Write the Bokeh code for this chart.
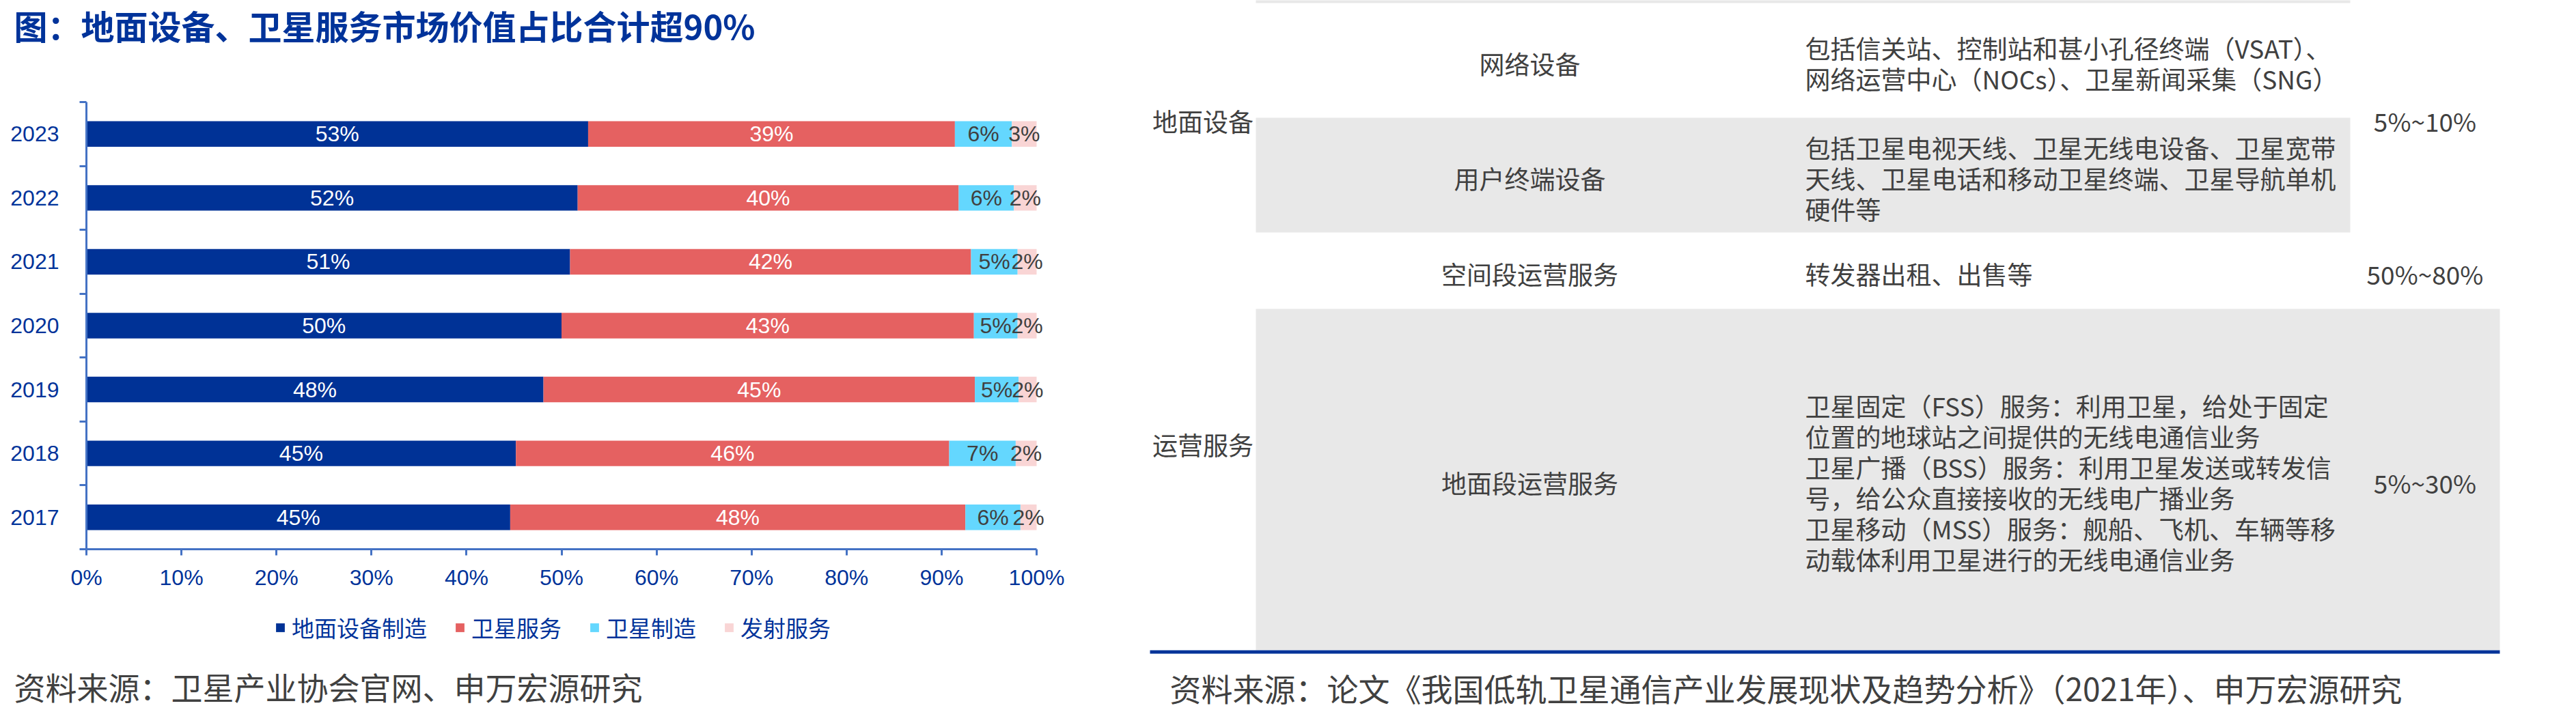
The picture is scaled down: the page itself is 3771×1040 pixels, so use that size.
from bokeh.plotting import figure
from bokeh.layouts import row
from bokeh.models import (Range1d, FixedTicker, CustomJSTickFormatter, PrintfTickFormatter,
                          Legend, LegendItem, Label, ColumnDataSource, LinearAxis)
from bokeh.core.properties import value
from bokeh.embed import file_html
from bokeh.resources import INLINE

# ---------------- data ----------------
years = ["2017", "2018", "2019", "2020", "2021", "2022", "2023"]
series_names = ["地面设备制造", "卫星服务", "卫星制造", "发射服务"]
ground_equipment = [44.6, 45.2, 48.1, 50.0, 50.9, 51.7, 52.8]
satellite_service = [47.9, 45.6, 45.4, 43.4, 42.2, 40.1, 38.6]
satellite_manufacture = [5.8, 7.0, 4.6, 4.6, 4.9, 5.8, 6.0]
launch_service = [1.7, 2.2, 1.9, 2.0, 2.0, 2.4, 2.6]
x_ticks = [0, 10, 20, 30, 40, 50, 60, 70, 80, 90, 100]

title_text = "图：地面设备、卫星服务市场价值占比合计超90%"
source_left = "资料来源：卫星产业协会官网、申万宏源研究"
source_right = "资料来源：论文《我国低轨卫星通信产业发展现状及趋势分析》（2021年）、申万宏源研究"

tbl_groups = ["地面设备", "运营服务"]
tbl_items = ["网络设备", "用户终端设备", "空间段运营服务", "地面段运营服务"]
tbl_desc = [
    ["包括信关站、控制站和甚小孔径终端（VSAT）、", "网络运营中心（NOCs）、卫星新闻采集（SNG）"],
    ["包括卫星电视天线、卫星无线电设备、卫星宽带", "天线、卫星电话和移动卫星终端、卫星导航单机", "硬件等"],
    ["转发器出租、出售等"],
    ["卫星固定（FSS）服务：利用卫星，给处于固定", "位置的地球站之间提供的无线电通信业务",
     "卫星广播（BSS）服务：利用卫星发送或转发信", "号，给公众直接接收的无线电广播业务",
     "卫星移动（MSS）服务：舰船、飞机、车辆等移", "动载体利用卫星进行的无线电通信业务"],
]
tbl_shares = ["5%~10%", "50%~80%", "5%~30%"]

# ---------------- style / layout ----------------
W, H = 3771, 1040
LW = 1660
FX0, FX1, FY0, FY1 = 126, 1517, 149, 804      # pixel box of the bar area
DARK_BLUE = "#00339A"
AXIS_BLUE = "#4472C4"
TXT = "#404040"
colors = ["#003296", "#E56161", "#64D7FE", "#F9D5D5"]
label_colors = ["white", "white", TXT, TXT]
CJK = "Noto Sans CJK SC"
LAT = "Liberation Sans"
NCAT = len(years)

def px_x(px):
    return (px - FX0) / (FX1 - FX0) * 100.0

def px_y(py):
    return (FY1 - py) / (FY1 - FY0) * NCAT

p = figure(width=LW, height=H, output_backend="svg", toolbar_location=None, title=None,
           x_range=Range1d(px_x(0), px_x(LW)), y_range=Range1d(px_y(H), px_y(0)),
           x_axis_location=None, y_axis_location=None, min_border=0)
p.outline_line_color = None
p.grid.visible = False
p.background_fill_color = "white"

vals = [ground_equipment, satellite_service, satellite_manufacture, launch_service]
ys = [i + 0.5 for i in range(NCAT)]
cum = [0.0] * NCAT
items = []
for k, v in enumerate(vals):
    left = cum[:]
    right = [a + b for a, b in zip(cum, v)]
    src = ColumnDataSource(dict(y=ys, left=left, right=right,
                                mid=[(a + b) / 2 for a, b in zip(left, right)],
                                lab=[f"{x:.0f}%" for x in v]))
    r = p.hbar(y="y", left="left", right="right", height=0.4, fill_color=colors[k],
               line_color=None, source=src)
    p.text(x="mid", y="y", text="lab", source=src, text_align="center", text_baseline="middle",
           text_font=value(LAT), text_font_size="32px", text_color=label_colors[k])
    items.append(LegendItem(label=series_names[k], renderers=[r]))
    cum = right

# axes (fixed inside the full-canvas frame)
xa = LinearAxis(fixed_location=0, bounds=(0, 100))
xa.ticker = FixedTicker(ticks=x_ticks)
xa.formatter = PrintfTickFormatter(format="%d%%")
xa.axis_line_color = AXIS_BLUE
xa.axis_line_width = 3
xa.major_tick_line_color = AXIS_BLUE
xa.major_tick_line_width = 3
xa.major_tick_out = 9
xa.major_tick_in = 0
xa.minor_tick_line_color = None
xa.major_label_text_font = LAT
xa.major_label_text_font_size = "32px"
xa.major_label_text_color = DARK_BLUE
xa.major_label_standoff = 14
p.add_layout(xa, "below")

ya = LinearAxis(fixed_location=0, bounds=(0, NCAT))
ya.ticker = FixedTicker(ticks=ys, minor_ticks=list(range(NCAT + 1)))
ya.formatter = CustomJSTickFormatter(args=dict(labels=years), code="return labels[Math.floor(tick)]")
ya.axis_line_color = AXIS_BLUE
ya.axis_line_width = 3
ya.major_tick_line_color = None
ya.major_tick_out = 0
ya.major_tick_in = 0
ya.minor_tick_line_color = AXIS_BLUE
ya.minor_tick_line_width = 3
ya.minor_tick_out = 10
ya.minor_tick_in = 0
ya.major_label_text_font = LAT
ya.major_label_text_font_size = "32px"
ya.major_label_text_color = DARK_BLUE
ya.major_label_standoff = 30
p.add_layout(ya, "left")

legend = Legend(items=items, orientation="horizontal", location=(402, 97),
                glyph_width=16, glyph_height=16, label_standoff=9, spacing=40,
                padding=0, margin=0, border_line_color=None, background_fill_alpha=0,
                label_text_font=CJK, label_text_font_size="33px", label_text_color=DARK_BLUE)
p.add_layout(legend, "center")

p.add_layout(Label(x=px_x(20), y=px_y(36), text=title_text, text_font=CJK, text_font_size="49px",
                   text_font_style="bold", text_color=DARK_BLUE, text_baseline="middle", text_align="left"))
p.add_layout(Label(x=px_x(20), y=px_y(1004), text=source_left, text_font=CJK, text_font_size="46px",
                   text_color=TXT, text_baseline="middle", text_align="left"))

# ---------------- right panel: table ----------------
q = figure(width=W - LW, height=H, output_backend="svg", toolbar_location=None, title=None,
           x_range=Range1d(LW, W), y_range=Range1d(H, 0),
           x_axis_location=None, y_axis_location=None, min_border=0)
q.outline_line_color = None
q.grid.visible = False

row_edges = [4, 172, 340, 452, 952]
col_edges = [1683, 1838, 2640, 3440, 3659]
GRAY = "#E8E8E8"
q.quad(left=[col_edges[1], col_edges[1], col_edges[1]],
       right=[col_edges[3], col_edges[3], col_edges[4]],
       top=[-20, row_edges[1], row_edges[3]],
       bottom=[row_edges[0], row_edges[2], row_edges[4]],
       fill_color=GRAY, line_color=None)
q.segment(x0=[col_edges[0]], x1=[col_edges[4]], y0=[954.5], y1=[954.5],
          line_color="#003399", line_width=5)

DY = 4
row_c = [(row_edges[i] + row_edges[i + 1]) / 2 + DY for i in range(4)]
grp_c = [(row_edges[0] + row_edges[2]) / 2 + DY, (row_edges[2] + row_edges[4]) / 2 + DY]
share_c = [grp_c[0], row_c[2], row_c[3]]
LH = 45

tx, ty, tt, ta = [], [], [], []
for i, g in enumerate(tbl_groups):
    tx.append((col_edges[0] + col_edges[1]) / 2); ty.append(grp_c[i]); tt.append(g); ta.append("center")
for i, it in enumerate(tbl_items):
    tx.append((col_edges[1] + col_edges[2]) / 2); ty.append(row_c[i]); tt.append(it); ta.append("center")
for i, lines in enumerate(tbl_desc):
    n = len(lines)
    for j, ln in enumerate(lines):
        tx.append(col_edges[2] + 2); ty.append(row_c[i] + (j - (n - 1) / 2) * LH); tt.append(ln); ta.append("left")
for i, s in enumerate(tbl_shares):
    tx.append((col_edges[3] + col_edges[4]) / 2); ty.append(share_c[i]); tt.append(s); ta.append("center")

tsrc = ColumnDataSource(dict(x=tx, y=ty, t=tt, a=ta))
q.text(x="x", y="y", text="t", text_align="a", source=tsrc, text_baseline="middle",
       text_font=value(CJK), text_font_size="37px", text_color=TXT)
q.text(x=[1712], y=[1006], text=[source_right], text_align="left", text_baseline="middle",
       text_font=value(CJK), text_font_size="46px", text_color=TXT)

layout = row(p, q, spacing=0)
open("out.html", "w").write(file_html(layout, INLINE))
